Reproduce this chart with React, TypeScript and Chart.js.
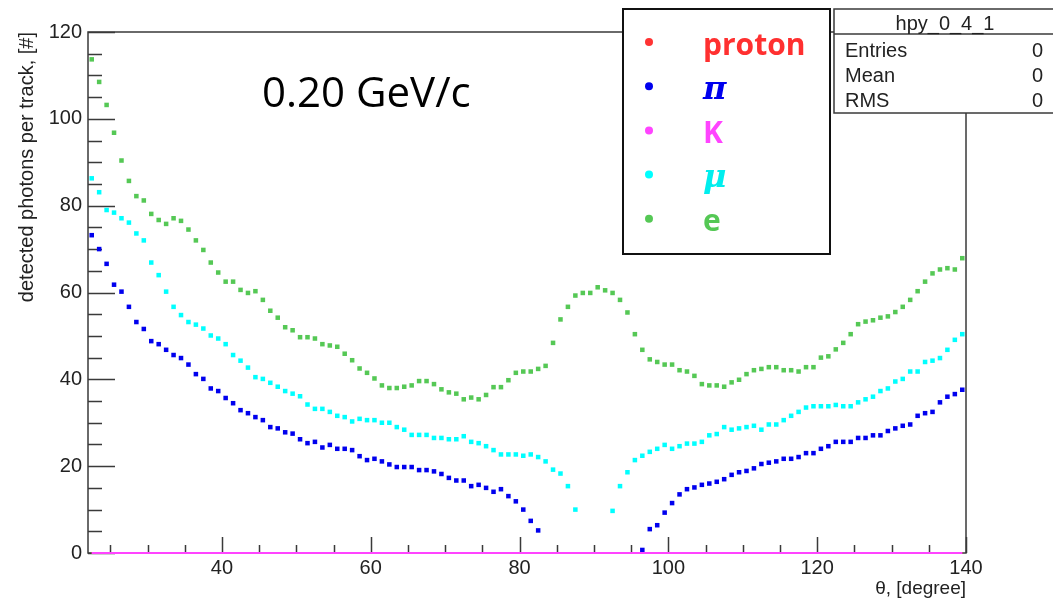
import React, { useEffect, useRef } from 'react';
import { Chart, registerables } from 'chart.js';

Chart.register(...registerables);

// Bin centres of theta [degree]
const THETA = [
  22.5, 23.5, 24.5, 25.5, 26.5, 27.5, 28.5, 29.5, 30.5, 31.5,
  32.5, 33.5, 34.5, 35.5, 36.5, 37.5, 38.5, 39.5, 40.5, 41.5,
  42.5, 43.5, 44.5, 45.5, 46.5, 47.5, 48.5, 49.5, 50.5, 51.5,
  52.5, 53.5, 54.5, 55.5, 56.5, 57.5, 58.5, 59.5, 60.5, 61.5,
  62.5, 63.5, 64.5, 65.5, 66.5, 67.5, 68.5, 69.5, 70.5, 71.5,
  72.5, 73.5, 74.5, 75.5, 76.5, 77.5, 78.5, 79.5, 80.5, 81.5,
  82.5, 83.5, 84.5, 85.5, 86.5, 87.5, 88.5, 89.5, 90.5, 91.5,
  92.5, 93.5, 94.5, 95.5, 96.5, 97.5, 98.5, 99.5, 100.5, 101.5,
  102.5, 103.5, 104.5, 105.5, 106.5, 107.5, 108.5, 109.5, 110.5, 111.5,
  112.5, 113.5, 114.5, 115.5, 116.5, 117.5, 118.5, 119.5, 120.5, 121.5,
  122.5, 123.5, 124.5, 125.5, 126.5, 127.5, 128.5, 129.5, 130.5, 131.5,
  132.5, 133.5, 134.5, 135.5, 136.5, 137.5, 138.5, 139.5,
];

const PROTON = [
  0, 0, 0, 0, 0, 0, 0, 0, 0, 0, 0, 0, 0, 0, 0, 0, 0, 0, 0, 0,
  0, 0, 0, 0, 0, 0, 0, 0, 0, 0, 0, 0, 0, 0, 0, 0, 0, 0, 0, 0,
  0, 0, 0, 0, 0, 0, 0, 0, 0, 0, 0, 0, 0, 0, 0, 0, 0, 0, 0, 0,
  0, 0, 0, 0, 0, 0, 0, 0, 0, 0, 0, 0, 0, 0, 0, 0, 0, 0, 0, 0,
  0, 0, 0, 0, 0, 0, 0, 0, 0, 0, 0, 0, 0, 0, 0, 0, 0, 0, 0, 0,
  0, 0, 0, 0, 0, 0, 0, 0, 0, 0, 0, 0, 0, 0, 0, 0, 0, 0,
];

const PION = [
  73.2, 70.0, 66.6, 61.8, 60.2, 56.7, 53.2, 51.6, 48.8, 48.1,
  46.8, 45.6, 44.9, 43.4, 41.2, 40.1, 37.9, 37.3, 35.7, 34.5,
  32.9, 32.2, 31.3, 30.6, 29.0, 28.7, 27.8, 27.5, 26.2, 25.3,
  25.6, 24.3, 24.9, 24.0, 24.0, 23.7, 22.3, 21.4, 21.7, 21.1,
  20.4, 19.8, 19.8, 19.8, 19.1, 19.1, 18.8, 18.2, 17.3, 16.7,
  16.7, 15.4, 15.7, 15.0, 14.1, 14.7, 13.1, 11.9, 10.0, 7.4,
  5.2, null, null, null, null, null, null, null, null, null,
  null, null, null, null, 0.7, 5.5, 6.4, 9.3, 11.5, 13.5,
  14.7, 15.1, 15.7, 16.0, 16.4, 17.0, 18.0, 18.6, 18.9, 19.5,
  20.5, 20.8, 21.1, 21.7, 21.7, 22.1, 23.0, 23.0, 24.0, 24.6,
  25.6, 25.6, 25.6, 26.5, 26.5, 27.1, 27.1, 28.1, 28.7, 29.3,
  29.6, 31.6, 32.2, 32.5, 34.7, 36.0, 36.6, 37.6,
];

const KAON = [
  0, 0, 0, 0, 0, 0, 0, 0, 0, 0, 0, 0, 0, 0, 0, 0, 0, 0, 0, 0,
  0, 0, 0, 0, 0, 0, 0, 0, 0, 0, 0, 0, 0, 0, 0, 0, 0, 0, 0, 0,
  0, 0, 0, 0, 0, 0, 0, 0, 0, 0, 0, 0, 0, 0, 0, 0, 0, 0, 0, 0,
  0, 0, 0, 0, 0, 0, 0, 0, 0, 0, 0, 0, 0, 0, 0, 0, 0, 0, 0, 0,
  0, 0, 0, 0, 0, 0, 0, 0, 0, 0, 0, 0, 0, 0, 0, 0, 0, 0, 0, 0,
  0, 0, 0, 0, 0, 0, 0, 0, 0, 0, 0, 0, 0, 0, 0, 0, 0, 0,
];

const MUON = [
  86.3, 83.1, 79.0, 78.4, 77.1, 76.1, 73.6, 72.0, 66.9, 64.0,
  60.2, 56.7, 54.8, 53.2, 52.6, 51.7, 50.1, 49.4, 48.1, 45.6,
  44.3, 42.7, 40.5, 40.1, 39.2, 38.3, 37.3, 36.7, 36.1, 34.2,
  33.2, 33.2, 32.5, 31.6, 31.3, 30.3, 30.9, 30.6, 30.6, 30.0,
  30.0, 29.0, 28.4, 27.2, 27.2, 27.2, 26.5, 26.5, 26.2, 26.2,
  26.9, 25.6, 25.3, 24.6, 23.7, 22.7, 22.7, 22.7, 22.4, 22.7,
  22.1, 21.1, 19.2, 18.3, 15.4, 10.0, null, null, null, null,
  9.7, 15.4, 18.6, 21.4, 22.4, 23.3, 24.0, 24.9, 24.0, 24.6,
  25.2, 25.2, 25.6, 27.1, 27.4, 29.0, 28.4, 28.7, 29.0, 29.3,
  28.4, 29.6, 29.6, 30.6, 31.6, 32.5, 33.5, 33.8, 33.8, 33.8,
  34.1, 33.8, 33.8, 34.7, 35.4, 36.0, 37.3, 37.9, 39.5, 40.1,
  41.8, 41.8, 44.0, 44.3, 44.9, 46.8, 49.1, 50.4,
];

const ELECTRON = [
  113.7, 108.5, 103.2, 96.8, 90.4, 85.7, 82.2, 81.2, 78.1, 76.7,
  75.8, 77.1, 76.5, 74.5, 72.0, 69.8, 66.9, 64.6, 62.5, 62.5,
  60.6, 59.9, 60.3, 58.3, 55.8, 54.2, 52.0, 51.3, 49.7, 49.7,
  49.4, 48.1, 47.8, 47.5, 45.9, 44.4, 42.5, 41.5, 40.2, 38.6,
  38.0, 38.0, 38.3, 38.6, 39.6, 39.6, 38.9, 37.7, 37.0, 36.7,
  35.4, 35.8, 35.4, 36.4, 38.2, 38.2, 39.8, 41.5, 41.8, 41.8,
  42.4, 43.1, 48.4, 53.8, 56.7, 59.3, 59.9, 59.9, 61.2, 60.5,
  59.9, 58.3, 55.4, 50.4, 46.8, 44.6, 44.0, 43.4, 43.4, 42.1,
  41.8, 40.8, 38.9, 38.6, 38.6, 38.3, 39.3, 39.9, 41.2, 42.1,
  42.4, 42.8, 42.8, 42.1, 42.1, 41.8, 42.8, 42.8, 45.0, 45.3,
  46.9, 48.4, 50.4, 52.7, 53.3, 53.6, 54.2, 54.5, 55.5, 56.7,
  58.3, 60.3, 62.5, 64.4, 65.3, 65.6, 65.3, 67.9,
];

const SERIES_LABELS = ['proton', 'π', 'K', 'μ', 'e'];
const X_TICKS = [40, 60, 80, 100, 120, 140];
const Y_TICKS = [0, 20, 40, 60, 80, 100, 120];
const X_RANGE = [22, 140];
const Y_RANGE = [0, 120];
const MINOR_STEP = 5;
const MAJOR_STEP = 20;
const X_TITLE = 'θ, [degree]';
const Y_TITLE = 'detected photons per track, [#]';
const MOMENTUM_LABEL = '0.20 GeV/c';
const STAT_TITLE = 'hpy_0_4_1';
const STAT_NAMES = ['Entries', 'Mean', 'RMS'];
const STAT_VALUES = [0, 0, 0];

const RED = '#ff3333';
const BLUE = '#0000ee';
const MAGENTA = '#ff44ff';
const CYAN = '#00ffff';
const GREEN = '#55c855';
const TEXT_COLORS = ['#ff3030', '#0000ee', '#ff44ff', '#00eeee', '#55c855'];
const AXIS_COLOR = '#3a3a3a';
const LABEL_COLOR = '#222222';

const decorPlugin = {
  id: 'rootDecor',
  beforeDatasetsDraw(chart: any) {
    const { ctx, chartArea: a, scales } = chart;
    const xs = scales.x;
    const ys = scales.y;
    ctx.save();
    // frame
    ctx.strokeStyle = AXIS_COLOR;
    ctx.lineWidth = 1.5;
    ctx.strokeRect(a.left, a.top, a.right - a.left, a.bottom - a.top);
    // inner ticks
    ctx.beginPath();
    for (let v = Y_RANGE[0]; v <= Y_RANGE[1]; v += MINOR_STEP) {
      const py = Math.round(ys.getPixelForValue(v)) + 0.5;
      const len = v % MAJOR_STEP === 0 ? 27 : 14;
      ctx.moveTo(a.left, py);
      ctx.lineTo(a.left + len, py);
    }
    const xStart = Math.ceil(X_RANGE[0] / MINOR_STEP) * MINOR_STEP;
    for (let v = xStart; v <= X_RANGE[1]; v += MINOR_STEP) {
      const px = Math.round(xs.getPixelForValue(v)) + 0.5;
      const len = v % MAJOR_STEP === 0 ? 16 : 8;
      ctx.moveTo(px, a.bottom);
      ctx.lineTo(px, a.bottom - len);
    }
    ctx.stroke();
    ctx.restore();
  },
  afterDraw(chart: any) {
    const { ctx } = chart;
    ctx.save();
    // momentum annotation
    ctx.fillStyle = '#000';
    ctx.font = '42px "Open Sans"';
    ctx.textAlign = 'left';
    ctx.textBaseline = 'alphabetic';
    ctx.fillText(MOMENTUM_LABEL, 262, 107);

    // legend box
    const lx = 623, ly = 9, lw = 207, lh = 245;
    ctx.fillStyle = '#fff';
    ctx.fillRect(lx, ly, lw, lh);
    ctx.strokeStyle = '#111';
    ctx.lineWidth = 2;
    ctx.strokeRect(lx, ly, lw, lh);
    chart.data.datasets.forEach((ds: any, k: number) => {
      const cy = 42 + k * 44.2;
      ctx.beginPath();
      ctx.fillStyle = ds.backgroundColor;
      ctx.arc(649, cy, 4, 0, Math.PI * 2);
      ctx.fill();
      const label = ds.label as string;
      const greek = /[\u0370-\u03ff\u00b5]/.test(label);
      ctx.font = greek ? 'italic bold 32px "DejaVu Serif"' : 'bold 30px "Open Sans"';
      ctx.fillStyle = TEXT_COLORS[k];
      ctx.textAlign = 'left';
      ctx.textBaseline = 'alphabetic';
      ctx.fillText(label, 703, cy + 12.5);
    });

    // stats box
    const sx = 834, sy = 9, sw = 230, sh = 104;
    ctx.fillStyle = '#fff';
    ctx.fillRect(sx, sy, sw, sh);
    ctx.strokeStyle = AXIS_COLOR;
    ctx.lineWidth = 1.5;
    ctx.strokeRect(sx, sy, sw, sh);
    ctx.beginPath();
    ctx.moveTo(sx, 34);
    ctx.lineTo(sx + sw, 34);
    ctx.stroke();
    ctx.fillStyle = LABEL_COLOR;
    ctx.font = '20px "Liberation Sans"';
    ctx.textAlign = 'center';
    ctx.fillText(STAT_TITLE, 945, 29.5);
    STAT_NAMES.forEach((name, i) => {
      const by = 57 + i * 25;
      ctx.textAlign = 'left';
      ctx.fillText(name, 845, by);
      ctx.textAlign = 'right';
      ctx.fillText(String(STAT_VALUES[i]), 1043, by);
    });
    ctx.restore();
  },
};

export default function App() {
  const ref = useRef<HTMLCanvasElement>(null);
  useEffect(() => {
    const canvas = ref.current;
    if (!canvas) return;
    Chart.defaults.font.family = '"Liberation Sans", Arial, sans-serif';
    const mk = (ys: (number | null)[]) => THETA.map((x, i) => ({ x, y: ys[i] }));
    const markerDs = (label: string, data: (number | null)[], color: string, order: number) => ({
      label,
      data: mk(data),
      backgroundColor: color,
      borderColor: color,
      borderWidth: 0,
      pointStyle: 'rect',
      pointRadius: 3.2,
      showLine: false,
      order,
      clip: false,
    });
    const chart = new Chart(canvas, {
      type: 'scatter',
      data: {
        datasets: [
          {
            label: SERIES_LABELS[0],
            data: mk(PROTON),
            backgroundColor: RED,
            borderColor: RED,
            borderWidth: 2.2,
            pointRadius: 0,
            showLine: true,
            order: 5,
            clip: false,
          },
          markerDs(SERIES_LABELS[1], PION, BLUE, 1),
          {
            label: SERIES_LABELS[2],
            data: mk(KAON),
            backgroundColor: MAGENTA,
            borderColor: MAGENTA,
            borderWidth: 2.2,
            pointRadius: 0,
            showLine: true,
            order: 0,
            clip: false,
          },
          markerDs(SERIES_LABELS[3], MUON, CYAN, 2),
          markerDs(SERIES_LABELS[4], ELECTRON, GREEN, 3),
        ] as any,
      },
      options: {
        responsive: false,
        animation: false,
        devicePixelRatio: 1,
        layout: { padding: { left: 0, top: 32, right: 87, bottom: 0 } },
        plugins: { legend: { display: false }, tooltip: { enabled: false } },
        scales: {
          x: {
            type: 'linear',
            min: X_RANGE[0],
            max: X_RANGE[1],
            afterFit: (s: any) => { s.height = 47; },
            afterBuildTicks: (s: any) => { s.ticks = X_TICKS.map((v) => ({ value: v })); },
            grid: { display: false, drawTicks: false },
            border: { display: false },
            ticks: { padding: 3, color: LABEL_COLOR, font: { size: 20 }, autoSkip: false, maxRotation: 0 },
            title: {
              display: true,
              text: X_TITLE,
              align: 'end',
              color: LABEL_COLOR,
              font: { size: 19 },
              padding: { top: 0, bottom: 0 },
            },
          },
          y: {
            type: 'linear',
            min: Y_RANGE[0],
            max: Y_RANGE[1],
            afterFit: (s: any) => { s.width = 88; },
            afterBuildTicks: (s: any) => { s.ticks = Y_TICKS.map((v) => ({ value: v })); },
            grid: { display: false, drawTicks: false },
            border: { display: false },
            ticks: { padding: 6, color: LABEL_COLOR, font: { size: 20 }, autoSkip: false },
            title: {
              display: true,
              text: Y_TITLE,
              align: 'end',
              color: LABEL_COLOR,
              font: { size: 20 },
              padding: { top: 15, bottom: 0 },
            },
          },
        },
      } as any,
      plugins: [decorPlugin],
    });
    return () => chart.destroy();
  }, []);

  return (
    <div style={{ position: 'fixed', left: 0, top: 0, width: 1053, height: 600, background: '#fff' }}>
      <canvas ref={ref} width={1053} height={600} style={{ display: 'block', width: 1053, height: 600 }} />
    </div>
  );
}
